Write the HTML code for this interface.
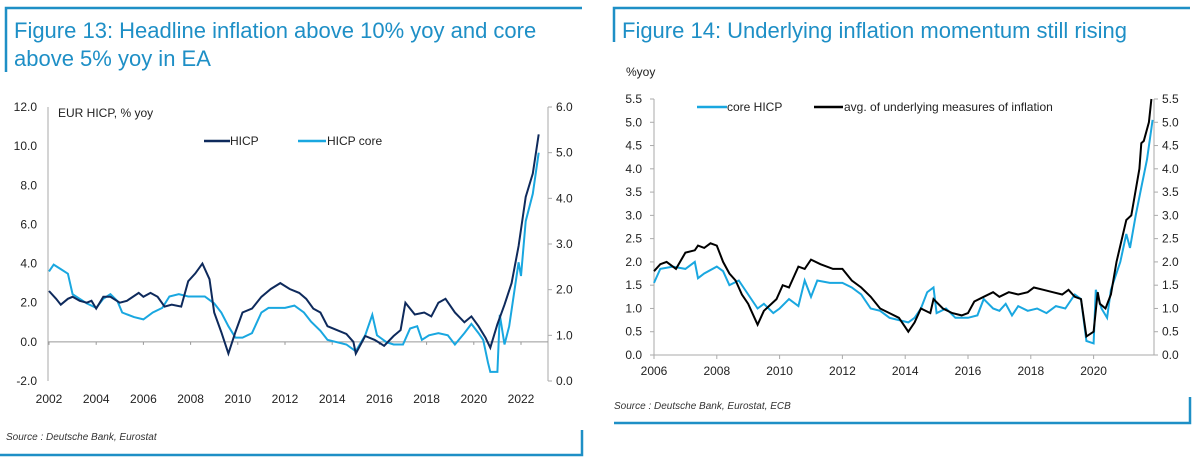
<!DOCTYPE html>
<html><head><meta charset="utf-8"><style>
body{margin:0;background:#fff;width:1196px;height:461px;overflow:hidden;font-family:"Liberation Sans",sans-serif}
svg{position:absolute;left:0;top:0}
</style></head><body>
<svg width="1196" height="461" viewBox="0 0 1196 461">
<g stroke="#1e8fc6" stroke-width="2.5" fill="none">
<path d="M6 72 V8 H582"/><path d="M614 42 V8 H1190"/>
<path d="M0 455 H582 V430"/><path d="M614 423 H1190 V397"/>
</g>
<text x="14" y="38" font-size="22" fill="#1e8fc6">Figure 13: Headline inflation above 10% yoy and core</text>
<text x="14" y="66" font-size="22" fill="#1e8fc6">above 5% yoy in EA</text>
<text x="622" y="38" font-size="22" fill="#1e8fc6">Figure 14: Underlying inflation momentum still rising</text>
<text x="6" y="440" font-size="10" font-style="italic" fill="#333">Source : Deutsche Bank, Eurostat</text>
<text x="614" y="409" font-size="10" font-style="italic" fill="#333">Source : Deutsche Bank, Eurostat, ECB</text>
<g id="c1"></g>
<g id="c2"></g>
</svg>
<script>
// Figure 13 data
const f13Years=[2002,2002.3,2002.5,2002.8,2003,2003.3,2003.6,2003.8,2004,2004.3,2004.6,2005,2005.3,2005.8,2006,2006.3,2006.6,2006.9,2007.2,2007.6,2007.9,2008.2,2008.5,2008.8,2009,2009.3,2009.6,2009.9,2010.2,2010.6,2011,2011.4,2011.8,2012.2,2012.6,2012.9,2013.2,2013.5,2013.8,2014.2,2014.6,2014.9,2015,2015.4,2015.8,2016.2,2016.6,2016.9,2017.1,2017.5,2017.9,2018.2,2018.5,2018.8,2019.2,2019.6,2019.9,2020.2,2020.5,2020.7,2021,2021.3,2021.6,2021.9,2022.2,2022.5,2022.75];
const hicp=[2.6,2.2,1.9,2.2,2.3,2.1,2.0,2.1,1.7,2.3,2.3,2.0,2.1,2.5,2.3,2.5,2.3,1.8,1.9,1.8,3.1,3.5,4.0,3.2,1.5,0.5,-0.6,0.5,1.5,1.7,2.3,2.7,3.0,2.7,2.5,2.2,1.7,1.5,0.8,0.6,0.4,0.0,-0.6,0.3,0.1,-0.2,0.3,0.6,2.0,1.4,1.5,1.3,2.0,2.2,1.5,1.0,1.3,0.8,0.2,-0.3,0.9,1.9,3.0,4.9,7.4,8.6,10.6];
const coreYears=[2002,2002.2,2002.5,2002.8,2003,2003.3,2003.6,2004,2004.3,2004.6,2004.9,2005.1,2005.6,2006,2006.4,2006.8,2007.1,2007.5,2007.9,2008.2,2008.6,2009,2009.3,2009.6,2009.9,2010.2,2010.6,2011,2011.3,2011.6,2012,2012.4,2012.8,2013.1,2013.5,2013.8,2014.2,2014.6,2015,2015.4,2015.7,2015.9,2016.3,2016.6,2017,2017.3,2017.6,2017.8,2018.1,2018.5,2018.9,2019.2,2019.6,2019.9,2020.2,2020.4,2020.6,2020.7,2021,2021.1,2021.3,2021.5,2021.7,2021.9,2022,2022.2,2022.5,2022.75];
const hicpCore=[2.4,2.55,2.45,2.35,1.9,1.8,1.7,1.6,1.8,1.9,1.75,1.5,1.4,1.35,1.5,1.6,1.85,1.9,1.85,1.85,1.85,1.7,1.5,1.2,0.95,0.95,1.05,1.5,1.6,1.6,1.6,1.65,1.5,1.3,1.1,0.9,0.85,0.8,0.65,1.0,1.45,1.0,0.85,0.8,0.8,1.15,1.2,0.9,1.0,1.05,1.0,0.8,1.05,1.25,1.05,0.9,0.4,0.2,0.2,1.45,0.8,1.2,1.9,2.6,2.3,3.5,4.1,5.0];
const f13LeftTicks=[-2,0,2,4,6,8,10,12];
const f13RightTicks=[0,1,2,3,4,5,6];
const f13XTicks=[2002,2004,2006,2008,2010,2012,2014,2016,2018,2020,2022];
// Figure 14 data
const f14CoreYears=[2006,2006.2,2006.6,2007,2007.3,2007.4,2007.6,2008,2008.2,2008.4,2008.7,2009,2009.3,2009.5,2009.8,2010,2010.3,2010.6,2010.8,2011,2011.2,2011.6,2012,2012.3,2012.6,2012.9,2013.2,2013.5,2013.8,2014.1,2014.3,2014.5,2014.7,2014.9,2015,2015.3,2015.6,2016,2016.3,2016.5,2016.8,2017,2017.2,2017.4,2017.6,2017.9,2018.2,2018.5,2018.8,2019.1,2019.4,2019.6,2019.77,2020,2020.07,2020.25,2020.43,2020.55,2020.85,2021.04,2021.16,2021.34,2021.52,2021.7,2021.88];
const f14Core=[1.55,1.85,1.9,1.85,2.0,1.65,1.75,1.9,1.8,1.5,1.6,1.3,1.0,1.1,0.9,1.0,1.2,1.05,1.6,1.25,1.6,1.55,1.55,1.45,1.3,1.0,0.95,0.8,0.75,0.7,0.8,1.0,1.35,1.45,0.9,1.0,0.8,0.8,0.85,1.2,1.0,0.95,1.1,0.85,1.05,0.95,1.0,0.9,1.05,1.0,1.3,1.2,0.3,0.25,1.4,1.0,0.8,1.4,2.0,2.6,2.3,3.0,3.6,4.2,5.05];
const f14AvgYears=[2006,2006.2,2006.4,2006.7,2007,2007.3,2007.4,2007.6,2007.8,2008,2008.2,2008.4,2008.6,2008.8,2009,2009.1,2009.3,2009.5,2009.9,2010.1,2010.3,2010.6,2010.8,2011,2011.3,2011.7,2012,2012.3,2012.6,2012.9,2013.2,2013.5,2013.8,2014,2014.1,2014.3,2014.5,2014.8,2014.9,2015.2,2015.5,2015.8,2016,2016.2,2016.5,2016.8,2017,2017.3,2017.6,2017.9,2018.1,2018.4,2018.7,2019,2019.2,2019.4,2019.6,2019.77,2020,2020.13,2020.2,2020.38,2020.55,2020.73,2021.04,2021.2,2021.46,2021.52,2021.6,2021.76,2021.84];
const f14Avg=[1.8,1.95,2.0,1.85,2.2,2.25,2.35,2.3,2.4,2.35,2.0,1.75,1.6,1.3,1.1,0.95,0.65,0.95,1.2,1.5,1.45,1.9,1.85,2.05,1.95,1.85,1.85,1.6,1.45,1.25,1.0,0.9,0.8,0.6,0.5,0.7,1.0,0.9,1.2,1.0,0.9,0.85,0.9,1.15,1.25,1.35,1.25,1.35,1.3,1.35,1.45,1.4,1.35,1.3,1.4,1.25,1.2,0.4,0.5,1.35,1.1,1.0,1.3,2.0,2.9,3.0,4.0,4.55,4.6,5.0,5.5];
const f14YTicks=[0,0.5,1,1.5,2,2.5,3,3.5,4,4.5,5,5.5];
const f14XTicks=[2006,2008,2010,2012,2014,2016,2018,2020];

const NS='http://www.w3.org/2000/svg';
function mk(p,t,a){const e=document.createElementNS(NS,t);for(const k in a)e.setAttribute(k,a[k]);p.appendChild(e);return e;}
function pathFrom(xs,ys,fx,fy){return xs.map((x,i)=>(i?'L':'M')+fx(x).toFixed(1)+' '+fy(ys[i]).toFixed(1)).join(' ');}

// Chart 1
(function(){
const g=document.getElementById('c1');
const L=48,R=548,T=107,B=381;
const x=v=>L+(v-2002)*(521-49)/20+1;
const yl=v=>B-(v+2)*(B-T)/14;
const yr=v=>B-v*(B-T)/6;
let a=mk(g,'line',{x1:L,y1:T,x2:L,y2:B,stroke:'#aaa'});

a=mk(g,'line',{x1:R,y1:T,x2:R,y2:B,stroke:'#aaa'});

a=mk(g,'line',{x1:L,y1:yl(0),x2:R,y2:yl(0),stroke:'#999'});

f13LeftTicks.forEach(v=>{const t=mk(g,'text',{x:37,y:yl(v)+4,'font-size':12,'text-anchor':'end',fill:'#222'});t.textContent=v.toFixed(1);
});
f13RightTicks.forEach(v=>{mk(g,'line',{x1:R,y1:yr(v),x2:R+4,y2:yr(v),stroke:'#aaa'});const t=mk(g,'text',{x:556,y:yr(v)+4,'font-size':12,fill:'#222'});t.textContent=v.toFixed(1);
});
f13XTicks.forEach(v=>{mk(g,'line',{x1:x(v),y1:yl(0),x2:x(v),y2:yl(0)+3,stroke:'#999'});const t=mk(g,'text',{x:x(v),y:403,'font-size':12,'text-anchor':'middle',fill:'#222'});t.textContent=v;
});
let p=mk(g,'path',{d:pathFrom(coreYears,hicpCore,x,yr),fill:'none',stroke:'#19a7e0','stroke-width':2});

p=mk(g,'path',{d:pathFrom(f13Years,hicp,x,yl),fill:'none',stroke:'#0e2a5c','stroke-width':2});

let t=mk(g,'text',{x:58,y:117,'font-size':12,fill:'#222'});t.textContent='EUR HICP, % yoy';

let l=mk(g,'line',{x1:204,y1:141,x2:230,y2:141,stroke:'#0e2a5c','stroke-width':2.5});

t=mk(g,'text',{x:230,y:145,'font-size':12,fill:'#222'});t.textContent='HICP';

l=mk(g,'line',{x1:298,y1:141,x2:326,y2:141,stroke:'#19a7e0','stroke-width':2.5});

t=mk(g,'text',{x:327,y:145,'font-size':12,fill:'#222'});t.textContent='HICP core';

})();

// Chart 2
(function(){
const g=document.getElementById('c2');
const L=654,R=1154,T=99,B=355;
const x=v=>L+(v-2006)*31.4;
const y=v=>B-v*(B-T)/5.5;
let a=mk(g,'line',{x1:L,y1:T,x2:L,y2:B,stroke:'#aaa'});

a=mk(g,'line',{x1:R,y1:T,x2:R,y2:B,stroke:'#aaa'});

a=mk(g,'line',{x1:L,y1:B,x2:R,y2:B,stroke:'#aaa'});

f14YTicks.forEach(v=>{mk(g,'line',{x1:L-4,y1:y(v),x2:L,y2:y(v),stroke:'#aaa'});mk(g,'line',{x1:R,y1:y(v),x2:R+4,y2:y(v),stroke:'#aaa'});
let t=mk(g,'text',{x:642,y:y(v)+4,'font-size':12,'text-anchor':'end',fill:'#222'});t.textContent=v.toFixed(1);

t=mk(g,'text',{x:1162,y:y(v)+4,'font-size':12,fill:'#222'});t.textContent=v.toFixed(1);
});
f14XTicks.forEach(v=>{mk(g,'line',{x1:x(v),y1:B,x2:x(v),y2:B+4,stroke:'#aaa'});const t=mk(g,'text',{x:x(v),y:375,'font-size':12,'text-anchor':'middle',fill:'#222'});t.textContent=v;
});
let p=mk(g,'path',{d:pathFrom(f14CoreYears,f14Core,x,y),fill:'none',stroke:'#19a7e0','stroke-width':2});

p=mk(g,'path',{d:pathFrom(f14AvgYears,f14Avg,x,y),fill:'none',stroke:'#000','stroke-width':2});

let t=mk(g,'text',{x:626,y:76,'font-size':12,fill:'#222'});t.textContent='%yoy';

let l=mk(g,'line',{x1:697,y1:107,x2:727,y2:107,stroke:'#19a7e0','stroke-width':2.5});

t=mk(g,'text',{x:727,y:111,'font-size':12,fill:'#222'});t.textContent='core HICP';

l=mk(g,'line',{x1:814,y1:107,x2:843,y2:107,stroke:'#000','stroke-width':2.5});

t=mk(g,'text',{x:844,y:111,'font-size':12,fill:'#222'});t.textContent='avg. of underlying measures of inflation';

})();
</script>
</body></html>
